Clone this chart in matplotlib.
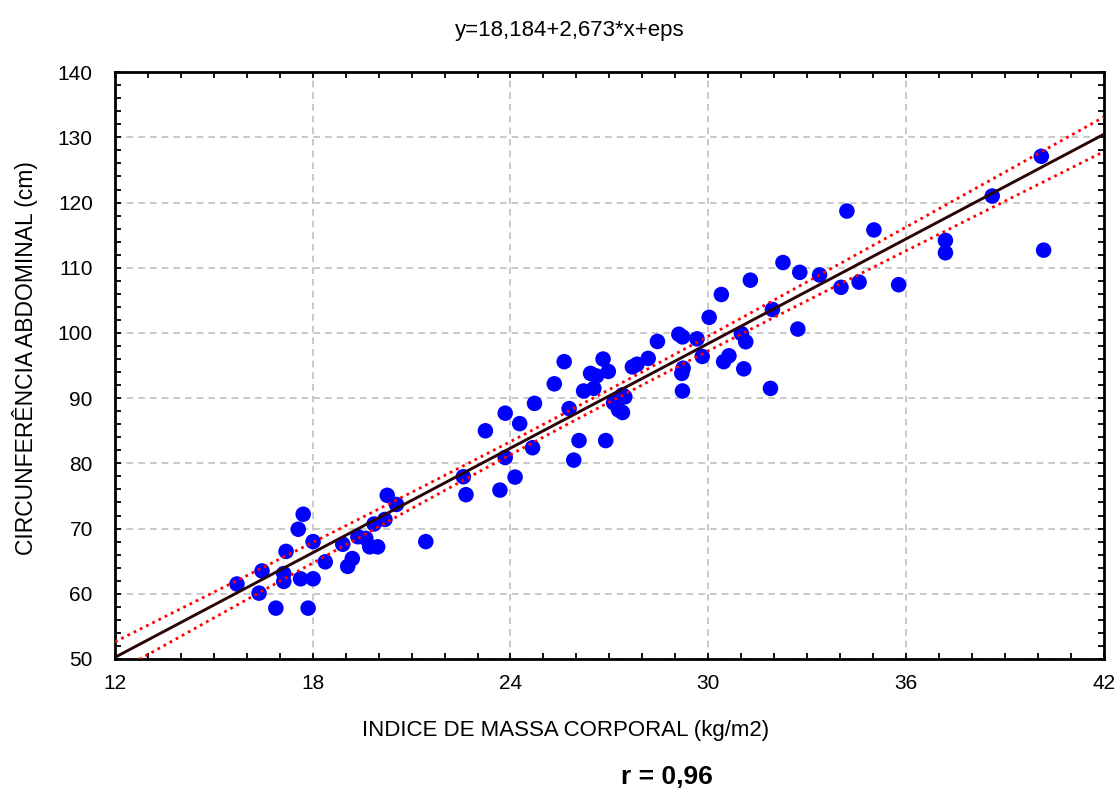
import matplotlib
matplotlib.use("Agg")
import matplotlib.pyplot as plt
import numpy as np
from matplotlib.ticker import MultipleLocator

# IMC (kg/m2) and abdominal circumference (cm)
imc = [15.70, 16.37, 16.46, 16.88, 17.12, 17.12, 17.19, 17.56, 17.71, 17.63,
       18.01, 17.86, 18.01, 18.38, 18.91, 19.06, 19.20, 19.37, 19.61, 19.73,
       19.97, 19.86, 20.19, 20.26, 20.54, 21.43,
       22.57, 22.65, 23.24, 23.68, 23.84, 23.84, 24.14, 24.28, 24.67, 24.73,
       25.33, 25.63, 25.78, 25.92, 26.08, 26.22, 26.43, 26.53, 26.61, 26.81,
       26.89, 26.97, 27.13, 27.28, 27.40, 27.40, 27.47, 27.70, 27.84, 28.18,
       28.46, 29.11, 29.22, 29.24, 29.20, 29.22, 29.66, 29.82, 30.03, 30.40,
       30.47, 30.63, 31.01, 31.14, 31.08, 31.28, 31.89, 31.95, 32.27, 32.72,
       32.78, 33.38, 34.03, 34.21, 34.58, 35.03, 35.78, 37.20, 37.20, 38.62,
       40.11, 40.18]
circ = [61.5, 60.1, 63.5, 57.8, 63.1, 61.9, 66.5, 69.9, 72.2, 62.3,
        62.3, 57.8, 68.0, 64.9, 67.6, 64.2, 65.4, 68.75, 68.5, 67.2,
        67.2, 70.7, 71.4, 75.1, 73.7, 68.0,
        77.95, 75.2, 85.0, 75.9, 87.7, 80.9, 77.9, 86.1, 82.4, 89.2,
        92.2, 95.6, 88.4, 80.5, 83.5, 91.1, 93.8, 91.5, 93.4, 96.0,
        83.5, 94.1, 89.3, 88.2, 87.8, 90.5, 90.2, 94.8, 95.2, 96.1,
        98.7, 99.8, 99.4, 94.6, 93.8, 91.1, 99.1, 96.4, 102.4, 105.9,
        95.6, 96.5, 99.9, 98.65, 94.5, 108.1, 91.5, 103.6, 110.8, 100.6,
        109.3, 108.9, 107.0, 118.7, 107.8, 115.8, 107.4, 114.2, 112.3, 121.0,
        127.1, 112.7]

b0, b1 = 18.184, 2.673
title = "y=18,184+2,673*x+eps"
r_text = "r = 0,96"

plt.rcParams["font.family"] = ["Liberation Sans", "DejaVu Sans"]
NARROW = ["Liberation Sans Narrow", "Liberation Sans", "DejaVu Sans"]

x = np.array(imc)
y = np.array(circ)
n = len(x)
resid = y - (b0 + b1 * x)
s = np.sqrt(np.sum(resid ** 2) / (n - 2))
sxx = np.sum((x - x.mean()) ** 2)

xs = np.linspace(12, 42, 300)
fit = b0 + b1 * xs
hw = 1.985 * s * np.sqrt(1.0 / n + (xs - x.mean()) ** 2 / sxx)

fig = plt.figure(figsize=(11.17, 7.93), dpi=100)
ax = fig.add_axes([0.103, 0.169, 0.885, 0.740])

ax.plot(xs, fit, color="#2a0505", lw=2.1, zorder=3)
ax.plot(xs, fit + hw, color="#ff0000", lw=2.0, ls=(0, (1, 1.5)), zorder=4)
ax.plot(xs, fit - hw, color="#ff0000", lw=2.0, ls=(0, (1, 1.5)), zorder=4)
ax.scatter(x, y, s=125, color="#0000ff", edgecolors="none", zorder=2)

ax.set_xlim(12, 42)
ax.set_ylim(50, 140)
ax.xaxis.set_major_locator(MultipleLocator(6))
ax.xaxis.set_minor_locator(MultipleLocator(1))
ax.yaxis.set_major_locator(MultipleLocator(10))
ax.yaxis.set_minor_locator(MultipleLocator(2))
ax.grid(True, which="major", color="#c0c0c0", ls=(0, (4, 3)), lw=1.2)
ax.set_axisbelow(True)

ax.tick_params(which="both", direction="in", top=True, right=True, width=1.3)
ax.tick_params(which="major", length=4.5, labelsize=15)
ax.tick_params(axis="y", which="major", pad=16)
ax.tick_params(axis="x", which="major", pad=11)
ax.tick_params(which="minor", length=4)
for sp in ax.spines.values():
    sp.set_linewidth(2)

fig.text(0.51, 0.962, title, ha="center", va="center", fontsize=16,
         family=NARROW)
fig.text(0.506, 0.079, "INDICE DE MASSA CORPORAL (kg/m2)", ha="center",
         va="center", fontsize=16)
fig.text(0.022, 0.549, "CIRCUNFERÊNCIA ABDOMINAL (cm)", ha="center",
         va="center", rotation=90, fontsize=16.5)
fig.text(0.597, 0.02, r_text, ha="center", va="center", fontsize=19,
         fontweight="bold")

fig.savefig("out.png", dpi=100)
